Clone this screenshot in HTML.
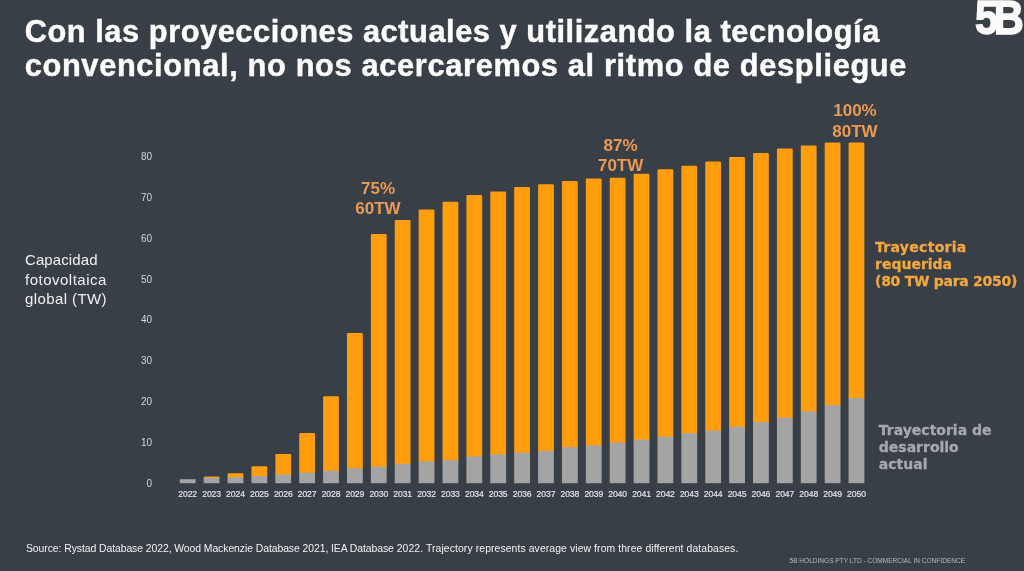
<!DOCTYPE html>
<html lang="es"><head><meta charset="utf-8"><title>5B</title>
<style>
html,body{margin:0;padding:0}
body{width:1024px;height:571px;overflow:hidden;background:#393f46;position:relative;font-family:"Liberation Sans",sans-serif;color:#fff}
.abs{position:absolute;white-space:nowrap}
#title{left:24.7px;top:15.4px;font-weight:bold;font-size:30.8px;line-height:33.6px;letter-spacing:0.54px;-webkit-text-stroke:.45px #fdfdfd;color:#fdfdfd}
#logo{right:4.2px;top:-7px;font-weight:bold;font-size:49px;line-height:49px;letter-spacing:-5px;transform-origin:right top;transform:scaleX(.85);color:#fcfcfc;-webkit-text-stroke:1.5px #fcfcfc}
#ylab{left:25px;top:250.2px;font-size:15px;line-height:19.6px;color:#f0f0f0}
.tick span{position:absolute;left:120px;width:32px;text-align:right;font-size:10px;line-height:12px;color:#d4d6d8}
.yr span{position:absolute;top:487.5px;width:30px;text-align:center;font-size:8.6px;line-height:12px;color:#e2e3e6;letter-spacing:-0.1px;-webkit-text-stroke:.2px}
.dl{font-weight:bold;font-size:17px;line-height:20.3px;text-align:center;color:#ea9a55;width:80px}
.lg{font-family:"DejaVu Sans","Liberation Sans",sans-serif;font-weight:bold;font-size:14px;line-height:17.3px;-webkit-text-stroke:.3px}
#src{left:26px;top:542.4px;letter-spacing:.02px;font-size:10.4px;line-height:14px;color:#f2f2f2}
#conf{left:789.5px;top:556px;font-size:6.55px;line-height:9px;color:#b6babe}
svg{position:absolute;left:0;top:0}
</style></head><body>
<svg width="1024" height="571" viewBox="0 0 1024 571">
<rect x="179.80" y="479.2" width="15.8" height="4.0" fill="#a5a4a5"/>
<rect x="203.69" y="476.4" width="15.8" height="2.7" rx="1.2" fill="#ff9d0c"/>
<rect x="203.69" y="477.7" width="15.8" height="5.5" fill="#a5a4a5"/>
<rect x="227.57" y="473.2" width="15.8" height="5.4" rx="1.2" fill="#ff9d0c"/>
<rect x="227.57" y="477.2" width="15.8" height="6.0" fill="#a5a4a5"/>
<rect x="251.46" y="466.2" width="15.8" height="11.2" rx="1.2" fill="#ff9d0c"/>
<rect x="251.46" y="476.0" width="15.8" height="7.2" fill="#a5a4a5"/>
<rect x="275.34" y="454.1" width="15.8" height="22.0" rx="1.2" fill="#ff9d0c"/>
<rect x="275.34" y="474.7" width="15.8" height="8.5" fill="#a5a4a5"/>
<rect x="299.23" y="432.9" width="15.8" height="41.2" rx="1.2" fill="#ff9d0c"/>
<rect x="299.23" y="472.7" width="15.8" height="10.5" fill="#a5a4a5"/>
<rect x="323.11" y="396.3" width="15.8" height="75.8" rx="1.2" fill="#ff9d0c"/>
<rect x="323.11" y="470.7" width="15.8" height="12.5" fill="#a5a4a5"/>
<rect x="347.00" y="333.0" width="15.8" height="136.6" rx="1.2" fill="#ff9d0c"/>
<rect x="347.00" y="468.2" width="15.8" height="15.0" fill="#a5a4a5"/>
<rect x="370.88" y="234.1" width="15.8" height="234.0" rx="1.2" fill="#ff9d0c"/>
<rect x="370.88" y="466.7" width="15.8" height="16.5" fill="#a5a4a5"/>
<rect x="394.76" y="220.1" width="15.8" height="245.0" rx="1.2" fill="#ff9d0c"/>
<rect x="394.76" y="463.7" width="15.8" height="19.5" fill="#a5a4a5"/>
<rect x="418.65" y="209.6" width="15.8" height="253.2" rx="1.2" fill="#ff9d0c"/>
<rect x="418.65" y="461.4" width="15.8" height="21.8" fill="#a5a4a5"/>
<rect x="442.54" y="201.8" width="15.8" height="259.8" rx="1.2" fill="#ff9d0c"/>
<rect x="442.54" y="460.2" width="15.8" height="23.0" fill="#a5a4a5"/>
<rect x="466.42" y="195.0" width="15.8" height="262.8" rx="1.2" fill="#ff9d0c"/>
<rect x="466.42" y="456.4" width="15.8" height="26.8" fill="#a5a4a5"/>
<rect x="490.31" y="191.6" width="15.8" height="264.2" rx="1.2" fill="#ff9d0c"/>
<rect x="490.31" y="454.4" width="15.8" height="28.8" fill="#a5a4a5"/>
<rect x="514.19" y="187.0" width="15.8" height="267.0" rx="1.2" fill="#ff9d0c"/>
<rect x="514.19" y="452.6" width="15.8" height="30.6" fill="#a5a4a5"/>
<rect x="538.08" y="184.3" width="15.8" height="268.0" rx="1.2" fill="#ff9d0c"/>
<rect x="538.08" y="450.9" width="15.8" height="32.3" fill="#a5a4a5"/>
<rect x="561.96" y="181.1" width="15.8" height="267.4" rx="1.2" fill="#ff9d0c"/>
<rect x="561.96" y="447.1" width="15.8" height="36.1" fill="#a5a4a5"/>
<rect x="585.85" y="178.4" width="15.8" height="268.4" rx="1.2" fill="#ff9d0c"/>
<rect x="585.85" y="445.4" width="15.8" height="37.8" fill="#a5a4a5"/>
<rect x="609.73" y="177.7" width="15.8" height="266.3" rx="1.2" fill="#ff9d0c"/>
<rect x="609.73" y="442.6" width="15.8" height="40.6" fill="#a5a4a5"/>
<rect x="633.62" y="173.7" width="15.8" height="267.3" rx="1.2" fill="#ff9d0c"/>
<rect x="633.62" y="439.6" width="15.8" height="43.6" fill="#a5a4a5"/>
<rect x="657.50" y="169.2" width="15.8" height="268.8" rx="1.2" fill="#ff9d0c"/>
<rect x="657.50" y="436.6" width="15.8" height="46.6" fill="#a5a4a5"/>
<rect x="681.38" y="165.7" width="15.8" height="268.8" rx="1.2" fill="#ff9d0c"/>
<rect x="681.38" y="433.1" width="15.8" height="50.1" fill="#a5a4a5"/>
<rect x="705.27" y="161.4" width="15.8" height="270.6" rx="1.2" fill="#ff9d0c"/>
<rect x="705.27" y="430.6" width="15.8" height="52.6" fill="#a5a4a5"/>
<rect x="729.15" y="157.1" width="15.8" height="271.1" rx="1.2" fill="#ff9d0c"/>
<rect x="729.15" y="426.8" width="15.8" height="56.4" fill="#a5a4a5"/>
<rect x="753.04" y="152.9" width="15.8" height="270.6" rx="1.2" fill="#ff9d0c"/>
<rect x="753.04" y="422.1" width="15.8" height="61.1" fill="#a5a4a5"/>
<rect x="776.92" y="148.6" width="15.8" height="270.4" rx="1.2" fill="#ff9d0c"/>
<rect x="776.92" y="417.6" width="15.8" height="65.6" fill="#a5a4a5"/>
<rect x="800.81" y="145.4" width="15.8" height="267.3" rx="1.2" fill="#ff9d0c"/>
<rect x="800.81" y="411.3" width="15.8" height="71.9" fill="#a5a4a5"/>
<rect x="824.70" y="142.6" width="15.8" height="263.8" rx="1.2" fill="#ff9d0c"/>
<rect x="824.70" y="405.0" width="15.8" height="78.2" fill="#a5a4a5"/>
<rect x="848.58" y="142.6" width="15.8" height="256.8" rx="1.2" fill="#ff9d0c"/>
<rect x="848.58" y="398.0" width="15.8" height="85.2" fill="#a5a4a5"/>
</svg>
<div id="title" class="abs">Con las proyecciones actuales y utilizando la tecnología<br><span style="letter-spacing:.64px">convencional, no nos acercaremos al ritmo de despliegue</span></div>
<div id="logo" class="abs">5B</div>
<div id="ylab" class="abs"><span style="letter-spacing:.1px">Capacidad</span><br><span style="letter-spacing:.5px">fotovoltaica</span><br><span style="letter-spacing:.4px">global (TW)</span></div>
<div class="tick"><span style="top:478.0px">0</span><span style="top:437.1px">10</span><span style="top:396.2px">20</span><span style="top:355.3px">30</span><span style="top:314.4px">40</span><span style="top:273.5px">50</span><span style="top:232.6px">60</span><span style="top:191.7px">70</span><span style="top:150.8px">80</span></div>
<div class="yr"><span style="left:172.70px">2022</span><span style="left:196.59px">2023</span><span style="left:220.47px">2024</span><span style="left:244.36px">2025</span><span style="left:268.24px">2026</span><span style="left:292.12px">2027</span><span style="left:316.01px">2028</span><span style="left:339.89px">2029</span><span style="left:363.78px">2030</span><span style="left:387.66px">2031</span><span style="left:411.55px">2032</span><span style="left:435.44px">2033</span><span style="left:459.32px">2034</span><span style="left:483.20px">2035</span><span style="left:507.09px">2036</span><span style="left:530.98px">2037</span><span style="left:554.86px">2038</span><span style="left:578.75px">2039</span><span style="left:602.63px">2040</span><span style="left:626.51px">2041</span><span style="left:650.40px">2042</span><span style="left:674.28px">2043</span><span style="left:698.17px">2044</span><span style="left:722.05px">2045</span><span style="left:745.94px">2046</span><span style="left:769.82px">2047</span><span style="left:793.71px">2048</span><span style="left:817.60px">2049</span><span style="left:841.48px">2050</span></div>
<div class="abs dl" style="left:338px;top:178.8px">75%<br>60TW</div>
<div class="abs dl" style="left:580.6px;top:135.6px">87%<br>70TW</div>
<div class="abs dl" style="left:815px;top:99.8px;line-height:21px">100%<br>80TW</div>
<div class="abs lg" style="left:875px;top:238.7px;color:#f3a73c"><span style="letter-spacing:.3px">Trayectoria</span><br>requerida<br><span style="letter-spacing:-.27px">(80 TW para 2050)</span></div>
<div class="abs lg" style="left:878.8px;top:421.7px;color:#a6a8ac;line-height:17px">Trayectoria de<br>desarrollo<br>actual</div>
<div id="src" class="abs"><span style="letter-spacing:-.063px">Source: Rystad Database 2022, Wood Mackenzie Database 2021, IEA Database </span><span style="letter-spacing:.096px">2022. Trajectory represents average view from three different databases.</span></div>
<div id="conf" class="abs">5B HOLDINGS PTY LTD - COMMERCIAL IN CONFIDENCE</div>
</body></html>
